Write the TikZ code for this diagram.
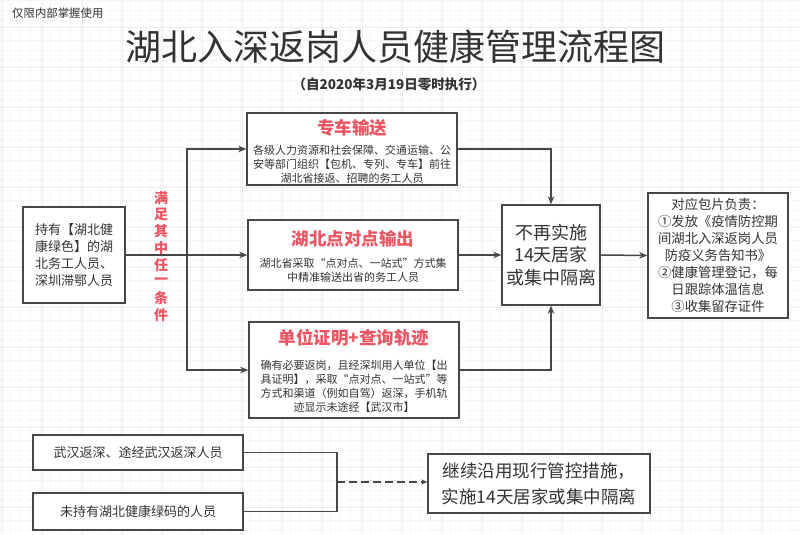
\documentclass[tikz,border=0pt]{standalone}
\usepackage{fontspec}
\setmainfont{Noto Sans CJK SC}
\usetikzlibrary{arrows.meta}

\definecolor{inkgray}{HTML}{333333}
\definecolor{linegray}{HTML}{474747}
\definecolor{alertred}{HTML}{EE5563}
\newcommand{\fsz}[2]{\fontsize{#1}{#2}\selectfont}

\tikzset{
  box/.style={draw=linegray, line width=1.5pt, fill=white, text=inkgray,
    align=center, inner sep=0pt},
  txt/.style={text=inkgray, align=center, inner sep=0pt},
  head/.style={text=alertred, font=\fsz{17.5}{20}\bfseries, inner sep=0pt},
  link/.style={draw=linegray, line width=1.5pt, -{Stealth[length=8pt,width=6.5pt]}},
  plain/.style={draw=linegray, line width=1.5pt},
}

\begin{document}
\begin{tikzpicture}[x=1pt, y=-1pt]

  \useasboundingbox (0,0) rectangle (800,535);
  \fill[white] (0,0) rectangle (800,535);
  \draw[gray!7, step=10pt] (0,0) grid (800,535);
  \begin{scope}[shift={(2,27)}]
    \draw[gray!15, step=40pt] (-2,-27) grid (798,508);
  \end{scope}

  \node[txt, font=\fsz{11.4}{13}, anchor=west] (tag) at (12,13) {仅限内部掌握使用};
  \node[txt, font=\fsz{36}{40}] (title) at (395,47) {湖北入深返岗人员健康管理流程图};
  \node[txt, font=\fsz{13.5}{16}\bfseries] (subtitle) at (389,84) {（自2020年3月19日零时执行）};

  \node[box, font=\fsz{13}{16.7}, minimum width=102pt, minimum height=96pt]
    (hold) at (74,255) {持有【湖北健\\康绿色】的湖\\北务工人员、\\深圳滞鄂人员};

  \begin{scope}[minimum width=210pt]
    \node[box, minimum height=72pt] (car) at (352,149) {};
    \node[box, minimum height=70pt] (p2p) at (353,255) {};
    \node[box, minimum height=96pt] (cert) at (354,370) {};
  \end{scope}

  \node[head] (carhead) at (352,128) {专车输送};
  \node[head] (p2phead) at (353,239) {湖北点对点输出};
  \node[head] (certhead) at (354,338) {单位证明+查询轨迹};

  \begin{scope}[font=\fsz{11}{14}]
    \node[txt] (carbody) at (352,164) {各级人力资源和社会保障、交通运输、公\\安等部门组织【包机、专列、专车】前往\\湖北省接返、招聘的务工人员};
    \node[txt] (p2pbody) at (353,270) {湖北省采取“点对点、一站式”方式集\\中精准输送出省的务工人员};
    \node[txt] (certbody) at (354,386.5) {确有必要返岗，且经深圳用人单位【出\\具证明】，采取“点对点、一站式”等\\方式和渠道（例如自驾）返深，手机轨\\迹显示未途经【武汉市】};
  \end{scope}

  \node[box, font=\fsz{18}{22.5}, minimum width=98pt, minimum height=100pt]
    (stop) at (551,255) {不再实施\\14天居家\\或集中隔离};
  \node[box, font=\fsz{13.3}{17}, minimum width=140pt, minimum height=125pt]
    (duty) at (718,255.5) {对应包片负责：\\①发放《疫情防控期\\间湖北入深返岗人员\\防疫义务告知书》\\②健康管理登记，每\\日跟踪体温信息\\③收集留存证件};

  \foreach \ch [count=\i] in {满,足,其,中,任,一,条,件}
    \node[text=alertred, font=\fsz{14}{16}\bfseries, inner sep=0pt] (cond\i) at (161,181.5+16.7*\i) {\ch};

  \coordinate (split) at (187,255);
  \draw[plain] (hold.east) -- (split);
  \draw[link] (split) |- (car.west);
  \draw[link] (split) -- (p2p.west);
  \draw[link] (split) |- (cert.west);

  \draw[link] (car.east) -| (stop.north);
  \draw[link] (p2p.east) -- (stop.west);
  \draw[link] (cert.east) -| (stop.south);
  \draw[link] (stop.east) -- (duty.west);

  \begin{scope}[font=\fsz{13}{16}, minimum width=210pt]
    \node[box, minimum height=35pt] (wuhan) at (138,452.5) {武汉返深、途经武汉返深人员};
    \node[box, minimum height=37pt] (nocode) at (138,511.5) {未持有湖北健康绿码的人员};
  \end{scope}
  \node[box, font=\fsz{17.5}{26}, minimum width=222pt, minimum height=59pt]
    (keep) at (539,483.5) {继续沿用现行管控措施，\\实施14天居家或集中隔离};

  \coordinate (join) at (337,482);
  \draw[plain] (wuhan.east) -| (join);
  \draw[plain] (nocode.east) -| (join);
  \draw[link, line width=1.3pt, dash pattern=on 8pt off 4pt,
    -{Stealth[length=6pt,width=5pt]}] (join) -- (keep.west |- join);

\end{tikzpicture}
\end{document}
